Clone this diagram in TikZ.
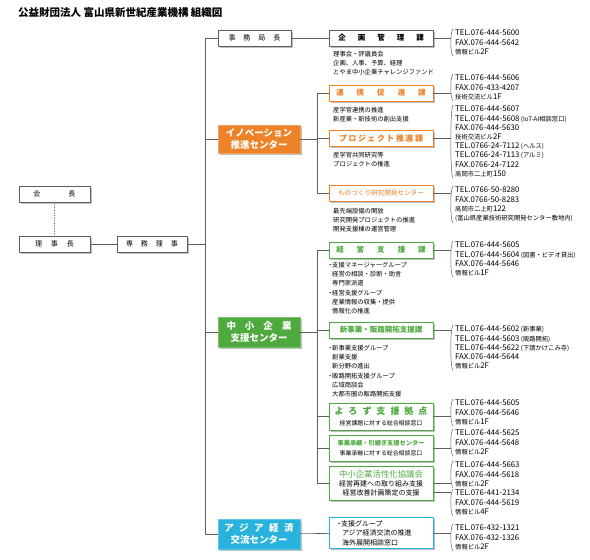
\documentclass[tikz,border=0pt]{standalone}
\usepackage{fontspec}
\setmainfont{Noto Sans CJK JP}
\usetikzlibrary{calc,shadows}
\definecolor{innoorange}{RGB}{238,130,40}
\definecolor{smegreen}{RGB}{78,170,62}
\definecolor{asiacyan}{RGB}{40,178,222}
\definecolor{wire}{RGB}{95,95,95}
\newcommand\spaced[2]{{\spaceskip=#1\relax#2}}
\newcommand\bul{\makebox[4pt][c]{・}}
\newcommand\sm[1]{{\fontsize{6.3}{9.2}\selectfont#1}}
\tikzset{
  post/.style={draw=wire, line width=0.6pt, fill=white, minimum height=16pt, inner sep=1pt,
    drop shadow={shadow xshift=1.6pt, shadow yshift=-1.6pt, opacity=0.5}},
  dept/.style={post, minimum width=104pt},
  hub/.style={post, minimum width=82pt, text=white, align=center,
    font=\bfseries\fontsize{9.5}{11.5}\selectfont},
  link/.style={draw=wire, line width=0.6pt},
  telbrk/.style={draw=wire, line width=0.5pt},
  notes/.style={anchor=north west, inner sep=0pt, align=left, font=\fontsize{6.3}{9.2}\selectfont},
  telblock/.style={anchor=north west, inner xsep=2pt, inner ysep=1pt, align=left,
    font=\fontsize{7.8}{9.2}\selectfont},
}
\begin{document}
\begin{tikzpicture}[x=1pt,y=-1pt,line cap=round,line join=round]
  \useasboundingbox (0,0) rectangle (590,560);
  \node[anchor=west, inner sep=0pt, font=\bfseries\fontsize{10.5}{12}\selectfont] (title) at (18,13)
    {公益財団法人 富山県新世紀産業機構 組織図};

  \node[post, minimum width=71pt, font=\fontsize{7}{8}\selectfont] (kaicho) at (54.5,194) {\spaced{28pt}{会 長}};
  \node[post, minimum width=71pt, font=\fontsize{7}{8}\selectfont] (rijicho) at (54.5,244) {\spaced{9pt}{理 事 長}};
  \node[post, minimum width=70pt, font=\fontsize{7}{8}\selectfont] (senmu) at (152,244) {\spaced{8pt}{専 務 理 事}};
  \node[post, minimum width=73pt, font=\fontsize{7}{8}\selectfont] (jimukyoku) at (254.5,38) {\spaced{8pt}{事 務 局 長}};
  \node[dept, font=\bfseries\fontsize{7.5}{9}\selectfont] (kikaku) at (381,38) {\spaced{12pt}{企 画 管 理 課}};

  \node[hub, fill=innoorange, draw=innoorange!75!white, minimum height=28pt] (innov) at (259,139)
    {イノベーション\\推進センター};
  \node[dept, draw=innoorange, text=innoorange, font=\bfseries\fontsize{7.5}{9}\selectfont] (renkei) at (381,93)
    {\spaced{13pt}{連 携 促 進 課}};
  \node[dept, draw=innoorange, text=innoorange, font=\bfseries\fontsize{8}{9}\selectfont] (project) at (381,138)
    {\spaced{1.5pt}{プ ロ ジ ェ ク ト 推 進 課}};
  \node[dept, draw=innoorange, text=innoorange, font=\fontsize{6.6}{8}\selectfont] (monozukuri) at (381,193)
    {ものづくり研究開発センター};

  \node[hub, fill=smegreen, draw=smegreen!75!white, minimum height=30pt] (chusho) at (259,332)
    {\spaced{9pt}{中 小 企 業}\\支援センター};
  \node[dept, draw=smegreen, text=smegreen, font=\bfseries\fontsize{7.5}{9}\selectfont] (keiei) at (381,250)
    {\spaced{13pt}{経 営 支 援 課}};
  \node[dept, draw=smegreen, text=smegreen, font=\bfseries\fontsize{7.5}{9}\selectfont] (shinjigyo) at (381,330)
    {新事業・販路開拓支援課};
  \node[dept, draw=smegreen, minimum height=27pt, align=center, font=\fontsize{5.9}{10.5}\selectfont] (yorozu) at (381,416.5)
    {\textcolor{smegreen}{\bfseries\fontsize{9}{10.5}\selectfont\spaced{5pt}{よ ろ ず 支 援 拠 点}}\\経営課題に対する総合相談窓口};
  \node[dept, draw=smegreen, minimum height=26pt, align=center, font=\fontsize{5.9}{9.5}\selectfont] (shokei) at (381,448)
    {\textcolor{smegreen}{\bfseries\fontsize{6.2}{9.5}\selectfont 事業承継・引継ぎ支援センター}\\事業承継に対する総合相談窓口};
  \node[dept, draw=smegreen, minimum height=34pt, align=center, font=\fontsize{7}{9}\selectfont] (kassei) at (381,483)
    {\textcolor{smegreen}{\fontsize{8.4}{9}\selectfont 中小企業活性化協議会}\\経営再建への取り組み支援\\経営改善計画策定の支援};

  \node[hub, fill=asiacyan, draw=asiacyan!75!white, minimum height=30pt] (asia) at (259,534)
    {\spaced{5.5pt}{ア ジ ア 経 済}\\交流センター};
  \node[dept, draw=asiacyan, minimum height=31pt, text width=88pt, inner xsep=8pt, align=left,
    font=\fontsize{7}{9.4}\selectfont] (asiagroup) at (381,533)
    {\bul 支援グループ\\\hspace*{5pt}アジア経済交流の推進\\\hspace*{5pt}海外展開相談窓口};

  \node[notes] (dkikaku) at (333,51) {理事会・評議員会\\企画、人事、予算、経理\\とやま中小企業チャレンジファンド};
  \node[notes] (drenkei) at (333,107) {産学官連携の推進\\新産業・新技術の創出支援};
  \node[notes] (dproject) at (333,152) {産学官共同研究等\\プロジェクトの推進};
  \node[notes] (dmono) at (333,208) {最先端設備の開放\\研究開発プロジェクトの推進\\開発支援棟の運営管理};
  \node[notes] (dkeiei) at (328,262) {\bul 支援マネージャーグループ\\\hspace*{4pt}経営の相談・診断・助言\\\hspace*{4pt}専門家派遣\\
    \bul 経営支援グループ\\\hspace*{4pt}産業情報の収集・提供\\\hspace*{4pt}情報化の推進};
  \node[notes] (dshin) at (328,345) {\bul 新事業支援グループ\\\hspace*{4pt}創業支援\\\hspace*{4pt}新分野の進出\\
    \bul 販路開拓支援グループ\\\hspace*{4pt}広域商談会\\\hspace*{4pt}大都市圏の販路開拓支援};

  \node[telblock] (tkikaku) at (453,29) {TEL.076-444-5600\\FAX.076-444-5642\\\sm{情報ビル}2F};
  \node[telblock] (trenkei) at (453,74) {TEL.076-444-5606\\FAX.076-433-4207\\\sm{技術交流ビル}1F};
  \node[telblock] (tproject) at (453,105) {TEL.076-444-5607\\TEL.076-444-5608\,\sm{(IoT-AI相談窓口)}\\FAX.076-444-5630\\
    \sm{技術交流ビル}2F\\TEL.0766-24-7112\,\sm{(ヘルス)}\\TEL.0766-24-7113\,\sm{(アルミ)}\\FAX.0766-24-7122\\\sm{高岡市二上町}150};
  \node[telblock] (tmono) at (453,186) {TEL.0766-50-8280\\FAX.0766-50-8283\\\sm{高岡市二上町}122\\
    \sm{(富山県産業技術研究開発センター敷地内)}};
  \node[telblock] (tkeiei) at (453,241) {TEL.076-444-5605\\TEL.076-444-5604\,\sm{(図書・ビデオ貸出)}\\FAX.076-444-5646\\\sm{情報ビル}1F};
  \node[telblock] (tshin) at (453,325) {TEL.076-444-5602\,\sm{(新事業)}\\TEL.076-444-5603\,\sm{(販路開拓)}\\
    TEL.076-444-5622\,\sm{(下請かけこみ寺)}\\FAX.076-444-5644\\\sm{情報ビル}2F};
  \node[telblock] (tyorozu) at (453,399) {TEL.076-444-5605\\FAX.076-444-5646\\\sm{情報ビル}1F};
  \node[telblock] (tshokei) at (453,429) {TEL.076-444-5625\\FAX.076-444-5648\\\sm{情報ビル}2F};
  \node[telblock] (tkassei) at (453,461) {TEL.076-444-5663\\FAX.076-444-5618\\\sm{情報ビル}2F};
  \node[telblock] (tkassei2) at (453,489) {TEL.076-441-2134\\FAX.076-444-5619\\\sm{情報ビル}4F};
  \node[telblock] (tasia) at (453,524) {TEL.076-432-1321\\FAX.076-432-1326\\\sm{情報ビル}2F};

  \coordinate (spine) at (205,0);
  \coordinate (ospine) at (317,0);
  \draw[link] (jimukyoku.west) -- (jimukyoku.west -| spine) |- (asia.west);
  \foreach \n in {innov,chusho}
    \draw[link] (\n.west) -- (\n.west -| spine);
  \draw[link] (senmu.east) -- (senmu.east -| spine);
  \draw[link] (rijicho) -- (senmu);
  \draw[link, dotted] (kaicho) -- (rijicho);
  \draw[link] (jimukyoku) -- (kikaku);
  \draw[link] (asia) -- (asiagroup);
  \draw[link] (renkei.west) -- (renkei.west -| ospine) |- (monozukuri.west);
  \draw[link] (innov.east) -- (innov.east -| ospine);
  \draw[link] (project.west) -- (project.west -| ospine);
  \draw[link] (keiei.west) -- (keiei.west -| ospine) |- (kassei.west);
  \foreach \n in {shinjigyo,yorozu,shokei}
    \draw[link] (\n.west) -- (\n.west -| ospine);
  \draw[link] (chusho.east) -- (chusho.east -| ospine);

  \foreach \t in {tkikaku,trenkei,tproject,tmono,tkeiei,tshin,tyorozu,tshokei,tkassei,tkassei2,tasia}
    \draw[telbrk] (\t.north west) .. controls +(-3,3) and +(-3,-3) .. (\t.south west);
  \foreach \b/\t in {kikaku/tkikaku,renkei/trenkei,project/tproject,monozukuri/tmono,keiei/tkeiei,
      shinjigyo/tshin,yorozu/tyorozu,shokei/tshokei,kassei/tkassei,asiagroup/tasia}
    \draw[link] (\b.east) -- ($(\b.east -| \t.west)+(-2.2,0)$);
  \coordinate (kassei2) at ($(kassei.east)+(0,9)$);
  \draw[link] (kassei2) -- ($(kassei2 -| tkassei2.west)+(-2.2,0)$);
\end{tikzpicture}
\end{document}
